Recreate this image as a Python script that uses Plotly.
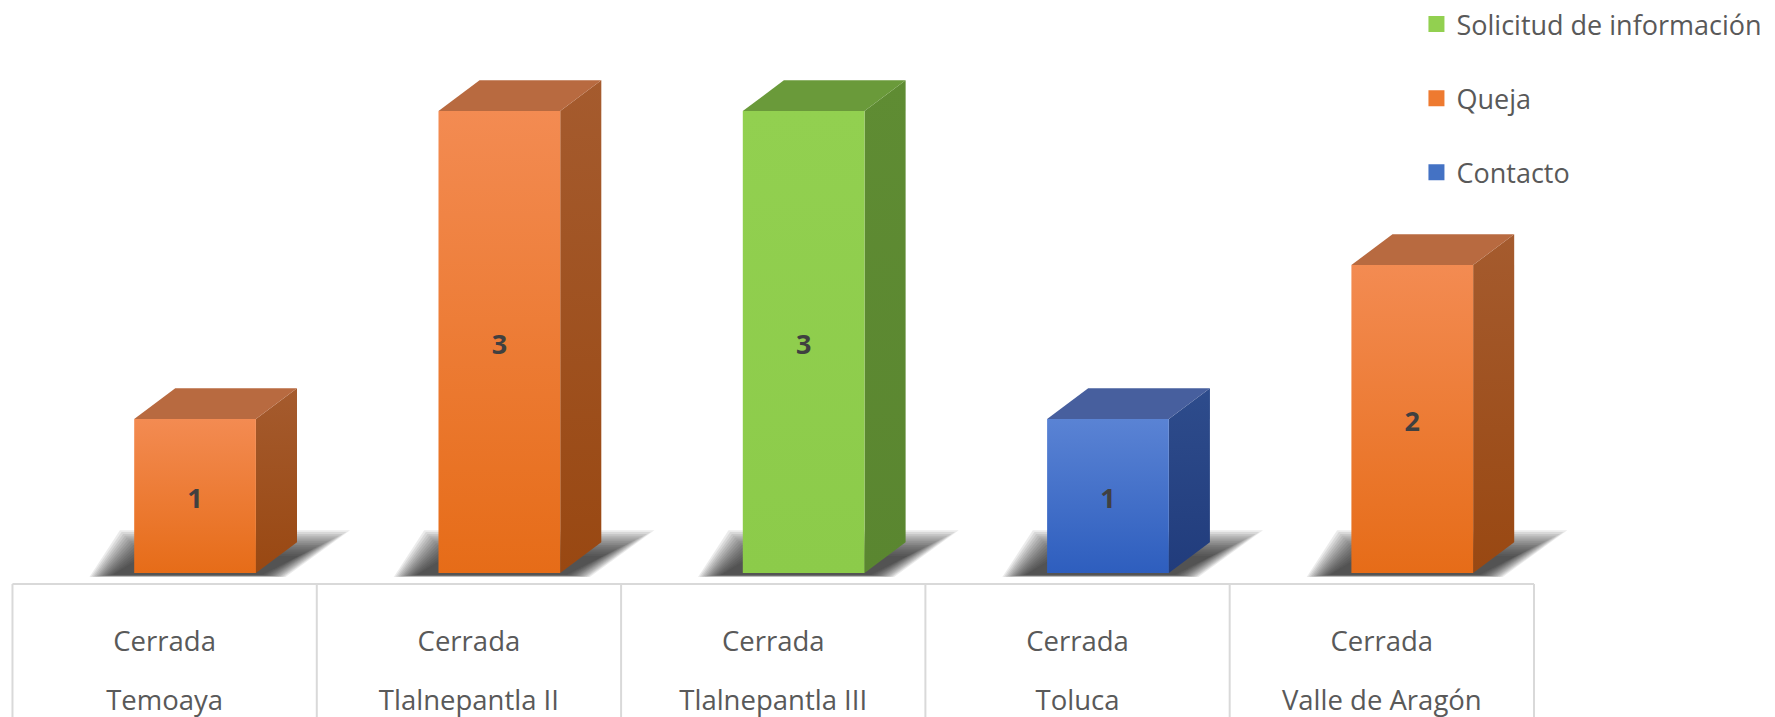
import plotly.graph_objects as go

# data
lugares = ["Temoaya", "Tlalnepantla II", "Tlalnepantla III", "Toluca", "Valle de Aragón"]
prefijo = ["Cerrada"] * 5
tipos = ["Queja", "Queja", "Solicitud de información", "Contacto", "Queja"]
valores = [1, 3, 3, 1, 2]
orden_leyenda = ["Solicitud de información", "Queja", "Contacto"]

# colours per type: front (bottom, top), side (bottom, top), top face
COLORS = {
    "Queja": dict(front=("#E66C18", "#F38B52"), side=("#994812", "#A55B2E"), top="#B86A40", legend="#EE7A30"),
    "Solicitud de información": dict(front=("#8CCB4A", "#92D050"), side=("#5A8630", "#5F8C33"), top="#6A9A3A", legend="#92D050"),
    "Contacto": dict(front=("#2E5EBE", "#5A83D4"), side=("#213C7C", "#2E4C8C"), top="#475F9E", legend="#4472C4"),
}

# 3D geometry in axis units
OFF, W = -0.1, 0.4          # front face offset / width
DX, DY = 0.135, 0.2         # depth of the box

fig = go.Figure()


def poly(xs, ys, **kw):
    fig.add_trace(go.Scatter(x=xs + [xs[0]], y=ys + [ys[0]], mode="lines", fill="toself",
                             line=dict(width=0), hoverinfo="skip", showlegend=False, **kw))


# soft shadows behind each box (many faint layers fake a blur)
for i, v in enumerate(valores):
    fl, fr = i + OFF, i + OFF + W
    for k in range(14, -1, -1):
        ex, ey = 0.0055 * k, 0.012 * k
        poly([fl - 0.07 - ex, fr + 0.02 + ex, fr + 0.14 + 2.2 * ex, fl + 0.03 - ex],
             [-0.012 - 0.001 * k, -0.012 - 0.001 * k, 0.11 + ey, 0.11 + ey],
             fillcolor="rgba(35,35,35,0.09)")

# boxes
for i, (t, v) in enumerate(zip(tipos, valores)):
    c = COLORS[t]
    fl, fr = i + OFF, i + OFF + W
    poly([fr, fr + DX, fr + DX, fr], [0, DY, v + DY, v],
         fillgradient=dict(type="vertical", colorscale=[[0, c["side"][0]], [1, c["side"][1]]]))
    poly([fl, fl + DX, fr + DX, fr], [v, v + DY, v + DY, v], fillcolor=c["top"])
    poly([fl, fr, fr, fl], [0, 0, v, v],
         fillgradient=dict(type="vertical", colorscale=[[0, c["front"][0]], [1, c["front"][1]]]))

# value labels
fig.add_trace(go.Scatter(
    x=[i + OFF + W / 2 for i in range(len(valores))], y=[v / 2 - 0.033 for v in valores],
    text=[str(v) for v in valores], mode="text", hoverinfo="skip", showlegend=False,
    textfont=dict(family="Open Sans", size=27, color="#404040", weight="bold"),
))

# category table
n = len(lugares)
grid = dict(mode="lines", line=dict(color="#D9D9D9", width=2), hoverinfo="skip", showlegend=False)
fig.add_trace(go.Scatter(x=[-0.5, n - 0.5], y=[-0.071, -0.071], **grid))
for b in range(n + 1):
    fig.add_trace(go.Scatter(x=[b - 0.5, b - 0.5], y=[-0.071, -1.0], **grid))
lbl = dict(mode="text", hoverinfo="skip", showlegend=False,
           textfont=dict(family="Open Sans", size=27.5, color="#595959"))
fig.add_trace(go.Scatter(x=list(range(n)), y=[-0.462] * n, text=prefijo, **lbl))
fig.add_trace(go.Scatter(x=list(range(n)), y=[-0.847] * n, text=lugares, **lbl))

# legend entries
for t in orden_leyenda:
    fig.add_trace(go.Scatter(x=[None], y=[None], mode="markers", name=t, legendgroup=t,
                             marker=dict(symbol="square", size=18, color=COLORS[t]["legend"])))

fig.update_layout(
    width=1775, height=717,
    margin=dict(l=0, r=0, t=0, b=0, autoexpand=False),
    paper_bgcolor="white", plot_bgcolor="white",
    xaxis=dict(range=[-0.541, 5.292], visible=False, fixedrange=True),
    yaxis=dict(range=[-0.935, 3.721], visible=False, fixedrange=True),
    showlegend=True,
    legend=dict(x=0.798, y=1.0, xanchor="left", yanchor="top", tracegroupgap=36,
                font=dict(family="Open Sans", size=27, color="#595959"),
                bgcolor="rgba(0,0,0,0)", itemclick=False, itemdoubleclick=False),
    hovermode=False,
)

# drop the default 8px page margin so the figure fills the window exactly
fig.write_html("out.html", config={"displayModeBar": False},
               post_script="document.body.style.margin='0px';")
